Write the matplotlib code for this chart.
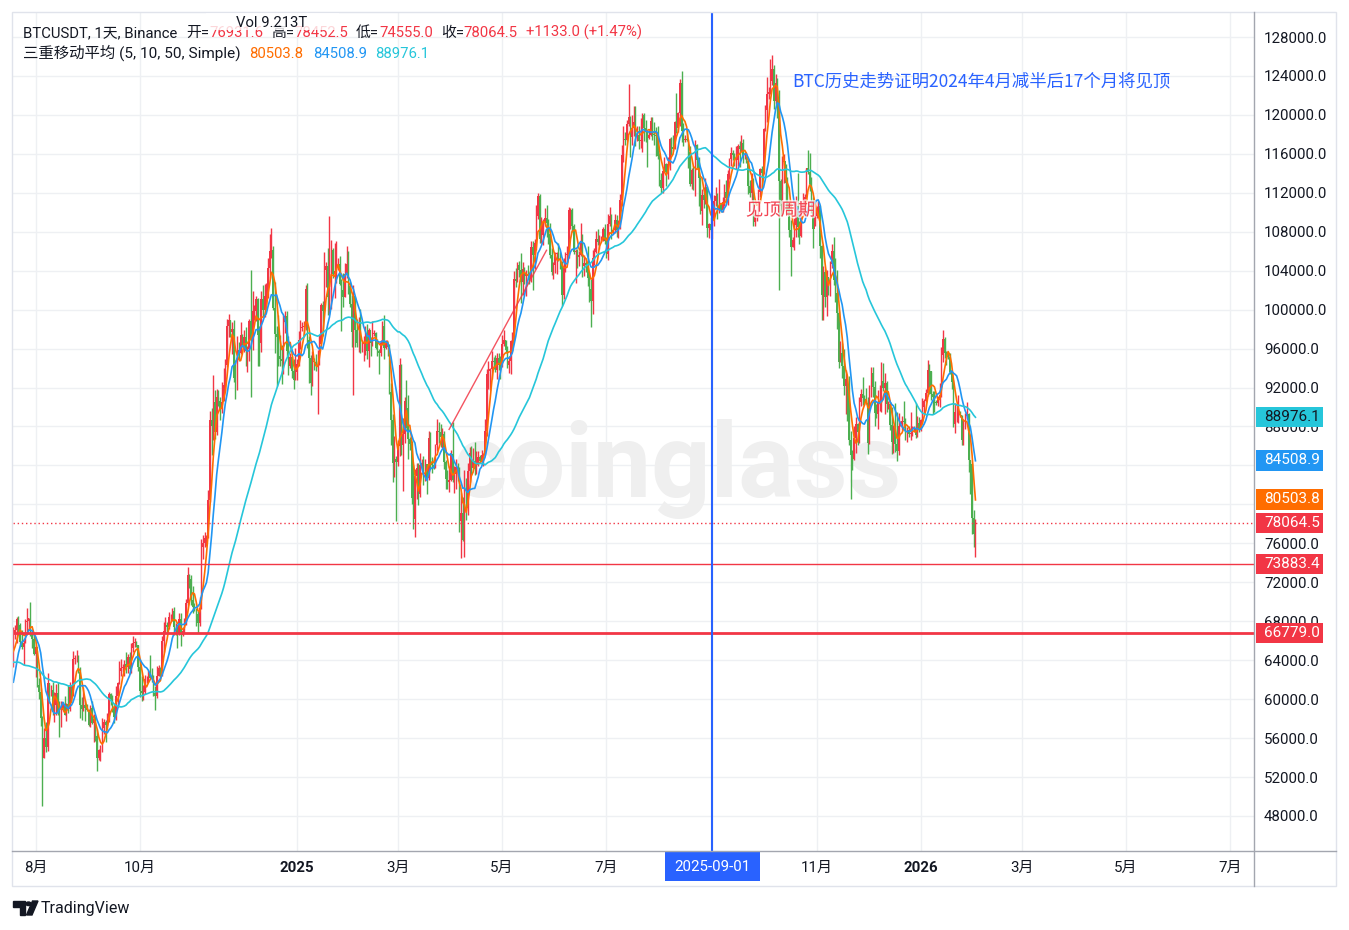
import matplotlib.pyplot as plt
import matplotlib.transforms as mtransforms
import matplotlib.patheffects as pe
from matplotlib.patches import Rectangle, Polygon, Circle
from matplotlib.lines import Line2D
import numpy as np
import pandas as pd

plt.rcParams['font.family'] = ['Roboto', 'Noto Sans CJK SC', 'DejaVu Sans']

# 日线 BTCUSDT (千美元), 从 2024-07-19 开始, 开盘 = 前一日收盘
first_day = '2024-07-19'

close_k = [
    66.7, 67.1, 68.2, 67.6, 65.9, 65.4, 65.8, 67.9, 68.0, 68.3, 66.8, 66.2, 64.6,  # 2024-07
    65.4, 61.5, 60.7, 58.1, 54.0, 56.0, 55.1, 61.7, 60.9, 60.9, 58.7, 59.4, 60.6, 58.7, 57.5, 58.9, 59.5, 58.4, 59.5, 59.0, 61.2, 60.4, 64.1, 64.2, 64.2, 62.8, 59.4, 59.0, 59.4, 59.1, 58.9,  # 08
    57.3, 59.1, 57.5, 58.0, 56.2, 54.0, 54.8, 54.9, 57.0, 57.6, 57.3, 58.1, 60.5, 60.0, 59.2, 58.2, 60.3, 61.7, 62.9, 63.2, 63.3, 63.6, 63.3, 64.3, 63.1, 65.2, 65.8, 65.9, 65.6, 63.3,  # 09
    60.8, 60.6, 60.7, 62.1, 62.1, 62.8, 62.2, 62.1, 60.6, 60.3, 62.4, 63.2, 62.9, 66.0, 67.0, 67.6, 67.4, 68.4, 68.4, 69.0, 67.4, 67.4, 66.7, 68.2, 66.6, 67.0, 67.9, 69.9, 72.7, 72.3, 70.2,  # 10
    69.5, 69.3, 68.7, 67.8, 69.4, 75.6, 76.0, 76.5, 76.7, 80.4, 88.7, 88.0, 90.5, 87.4, 91.0, 90.6, 89.8, 90.5, 92.3, 94.3, 98.3, 98.9, 97.7, 98.0, 93.0, 91.9, 95.9, 95.6, 97.4, 96.4,  # 11
    97.2, 95.8, 96.0, 98.8, 97.0, 99.9, 99.9, 101.1, 97.4, 96.6, 101.1, 100.0, 101.4, 101.4, 104.3, 106.0, 106.1, 100.2, 97.5, 97.2, 95.2, 94.9, 94.7, 98.7, 99.4, 95.8, 94.2, 95.1, 93.7, 92.8, 93.6,  # 12
    94.4, 96.9, 98.1, 98.2, 98.3, 102.1, 96.9, 95.0, 92.5, 94.7, 94.6, 94.5, 94.5, 96.5, 100.5, 99.9, 104.1, 104.5, 101.3, 102.0, 106.1, 103.7, 104.0, 104.7, 104.7, 102.6, 102.0, 101.3, 103.7, 104.7, 102.4,  # 2025-01
    100.6, 97.7, 101.4, 97.9, 96.6, 96.6, 96.5, 96.5, 96.5, 97.4, 95.8, 97.9, 96.6, 97.5, 97.6, 96.1, 95.8, 95.5, 96.6, 98.3, 96.1, 96.6, 96.2, 91.5, 88.7, 84.3, 84.7, 84.4,  # 02
    86.0, 94.3, 86.1, 87.2, 90.6, 89.9, 86.7, 86.2, 80.7, 78.5, 82.9, 83.7, 81.1, 84.0, 84.3, 82.6, 84.1, 82.7, 86.8, 84.2, 84.0, 83.8, 86.1, 87.5, 87.4, 86.9, 87.2, 84.4, 82.6, 82.3, 82.5,  # 03
    85.2, 82.5, 83.1, 83.8, 83.5, 78.3, 79.1, 76.3, 82.6, 79.6, 83.4, 85.3, 83.7, 84.5, 83.6, 84.0, 84.9, 84.5, 85.1, 85.2, 87.5, 93.4, 93.7, 93.9, 94.7, 94.6, 93.8, 95.0, 94.3, 94.2,  # 04
    96.5, 96.9, 95.9, 94.3, 94.7, 96.8, 97.0, 103.2, 102.9, 104.6, 104.1, 102.8, 104.2, 103.5, 103.7, 103.5, 103.2, 106.4, 105.6, 106.8, 109.6, 111.7, 107.3, 107.7, 109.0, 109.4, 108.9, 107.8, 105.6, 103.9, 104.6,  # 05
    105.7, 105.8, 105.4, 104.7, 101.5, 104.3, 105.6, 105.7, 110.2, 110.2, 108.6, 105.9, 106.0, 105.4, 105.6, 106.8, 104.5, 104.8, 104.6, 103.3, 102.1, 100.9, 105.3, 105.9, 107.3, 106.9, 107.1, 107.3, 108.3, 107.1,  # 06
    105.7, 108.8, 109.6, 108.0, 108.2, 109.2, 108.2, 108.9, 111.3, 115.9, 117.5, 117.4, 119.1, 119.8, 117.7, 118.7, 119.3, 117.9, 117.9, 117.3, 117.4, 120.0, 118.7, 118.3, 117.6, 117.9, 119.4, 118.0, 117.9, 117.8, 115.8,  # 07
    113.3, 112.5, 114.2, 115.0, 114.1, 115.0, 117.5, 116.7, 116.5, 119.3, 118.7, 120.2, 123.3, 118.3, 117.4, 117.5, 117.4, 116.2, 112.9, 114.3, 112.5, 116.9, 115.4, 113.5, 110.1, 111.8, 111.3, 112.6, 108.4, 108.8, 108.2,  # 08
    109.2, 111.2, 111.7, 110.7, 110.7, 110.2, 111.1, 112.1, 111.5, 113.9, 115.5, 116.1, 115.9, 115.3, 115.4, 116.8, 116.5, 117.1, 115.7, 115.7, 115.3, 112.7, 112.0, 113.3, 109.0, 109.7, 109.7, 112.1, 114.4, 114.0,  # 09
    118.6, 120.5, 122.2, 122.4, 123.5, 124.7, 121.4, 123.3, 121.7, 113.2, 110.6, 115.2, 115.3, 113.0, 110.8, 108.2, 106.4, 107.2, 108.7, 110.6, 108.5, 107.6, 110.1, 111.0, 111.6, 114.5, 114.1, 112.9, 110.0, 108.3, 109.6,  # 10
    110.1, 110.6, 106.5, 101.5, 103.9, 101.3, 103.4, 102.3, 104.7, 106.0, 103.0, 101.7, 99.7, 94.6, 95.5, 94.2, 92.2, 92.9, 91.5, 86.6, 85.1, 84.7, 86.8, 88.3, 87.4, 90.5, 91.3, 90.9, 90.8, 90.4,  # 11
    86.3, 91.3, 93.5, 92.1, 89.4, 89.3, 90.4, 90.6, 92.7, 92.0, 92.5, 90.3, 90.3, 88.2, 86.4, 87.8, 86.2, 85.5, 88.1, 88.3, 88.6, 88.5, 87.6, 87.6, 87.2, 87.3, 87.8, 87.8, 87.1, 88.4, 87.6,  # 12
    88.7, 90.0, 90.6, 91.4, 93.8, 93.7, 91.3, 91.0, 90.5, 90.4, 90.8, 91.2, 95.3, 97.0, 95.6, 95.5, 95.1, 93.6, 92.6, 88.3, 89.5, 89.5, 89.5, 89.2, 86.6, 88.3, 89.1, 89.3, 84.6, 84.1, 78.6,  # 2026-01
    76.9316, 78.0645,  # 02
]

high_k = [
    67.4, 67.6, 68.4, 68.5, 67.8, 67.1, 66.1, 68.2, 69.4, 68.3, 70.0, 67.0, 66.8,
    65.6, 65.0, 62.2, 61.1, 58.3, 57.0, 57.7, 62.7, 61.7, 61.5, 61.8, 60.7, 61.6, 61.8, 59.8, 59.8, 59.7, 60.3, 59.6, 61.4, 61.8, 61.4, 64.9, 64.5, 65.0, 64.5, 63.3, 60.2, 61.2, 59.9, 59.5,
    59.0, 59.4, 59.8, 58.5, 58.3, 56.9, 54.9, 55.3, 58.1, 58.0, 57.9, 58.6, 60.7, 60.6, 60.4, 59.2, 61.3, 61.8, 63.9, 64.1, 63.6, 64.0, 64.8, 64.6, 64.8, 65.8, 66.5, 66.3, 66.0, 65.6,
    64.1, 62.4, 61.5, 62.5, 62.4, 63.0, 64.5, 63.2, 62.5, 61.3, 63.4, 63.5, 63.3, 66.5, 67.9, 68.4, 67.9, 68.9, 68.7, 69.4, 69.5, 67.8, 67.5, 68.8, 68.8, 67.4, 68.3, 70.3, 73.6, 72.9, 72.7,
    71.6, 69.9, 69.4, 69.0, 70.5, 76.4, 76.9, 77.2, 76.9, 81.5, 89.6, 89.9, 93.3, 91.8, 91.9, 91.8, 91.0, 92.6, 94.0, 94.9, 99.0, 99.6, 98.9, 98.7, 98.9, 94.8, 97.3, 96.7, 98.7, 97.5,
    97.9, 98.2, 96.3, 99.0, 104.1, 101.9, 100.5, 101.4, 101.2, 98.3, 101.9, 102.5, 102.6, 102.7, 105.3, 107.8, 108.4, 106.5, 102.8, 98.3, 99.5, 97.4, 96.4, 99.5, 99.9, 99.9, 97.3, 95.5, 95.2, 94.9, 96.1,
    94.9, 97.8, 98.9, 98.7, 98.8, 102.5, 102.7, 97.3, 95.3, 95.8, 95.0, 95.4, 95.9, 97.4, 100.7, 100.9, 105.9, 104.9, 106.3, 109.6, 107.2, 106.3, 106.8, 107.1, 105.3, 105.5, 103.2, 103.8, 104.8, 106.5, 106.0,
    102.8, 101.5, 102.5, 101.3, 99.0, 99.2, 100.1, 96.9, 97.3, 98.3, 98.5, 98.1, 97.2, 98.8, 97.9, 97.7, 97.0, 96.0, 96.9, 98.8, 99.5, 96.9, 96.5, 96.5, 92.5, 89.3, 87.0, 85.0,
    86.6, 95.0, 94.4, 88.9, 91.0, 92.8, 91.2, 86.9, 86.5, 84.0, 83.6, 84.3, 84.3, 85.3, 84.7, 85.0, 84.7, 84.0, 87.5, 87.4, 84.9, 84.5, 86.2, 88.8, 88.5, 88.3, 87.8, 87.5, 84.6, 83.5, 83.9,
    85.6, 88.5, 83.9, 84.7, 84.3, 83.8, 81.2, 80.8, 83.5, 82.7, 84.2, 85.9, 86.0, 85.8, 86.4, 85.5, 85.5, 85.1, 85.6, 85.3, 88.8, 93.9, 94.7, 94.0, 95.8, 95.1, 95.3, 95.6, 95.5, 95.2,
    97.4, 97.9, 96.9, 96.3, 95.2, 96.9, 97.7, 104.0, 104.3, 104.9, 105.0, 105.8, 104.9, 104.4, 104.1, 104.6, 103.7, 107.1, 107.1, 107.3, 110.8, 112.0, 111.9, 109.5, 109.3, 110.4, 110.7, 109.3, 108.9, 106.3, 104.9,
    105.9, 105.9, 106.8, 105.9, 105.0, 105.3, 105.9, 106.5, 110.5, 110.4, 110.4, 108.8, 106.2, 106.2, 106.0, 108.9, 107.8, 105.6, 105.3, 106.5, 103.9, 103.1, 106.1, 106.3, 108.1, 108.3, 107.7, 107.6, 108.5, 108.8,
    107.5, 109.8, 110.5, 109.8, 108.4, 109.8, 109.7, 109.2, 111.9, 116.9, 118.9, 118.2, 119.5, 123.2, 119.9, 120.0, 120.9, 120.9, 118.9, 118.9, 119.7, 120.2, 120.2, 119.5, 118.4, 118.5, 119.8, 119.8, 119.3, 118.8, 118.9,
    116.1, 114.0, 114.7, 115.7, 115.1, 115.7, 117.6, 117.7, 117.9, 119.4, 122.3, 120.3, 123.7, 124.5, 119.2, 117.9, 118.6, 117.5, 116.8, 114.6, 114.8, 117.4, 117.0, 115.7, 113.6, 112.4, 112.6, 113.5, 112.7, 108.9, 109.5,
    109.9, 111.8, 112.6, 112.0, 113.4, 111.0, 111.6, 112.9, 113.3, 114.3, 115.6, 116.7, 116.4, 116.1, 116.8, 117.0, 117.3, 117.9, 117.5, 116.2, 115.8, 115.4, 113.3, 114.0, 113.5, 110.3, 109.8, 112.4, 114.5, 114.8,
    118.7, 121.0, 123.9, 122.9, 125.7, 126.2, 125.1, 124.2, 123.8, 122.6, 113.4, 115.8, 116.0, 115.0, 113.6, 111.1, 109.2, 107.5, 109.4, 111.7, 114.0, 109.1, 111.2, 112.0, 111.9, 114.6, 116.4, 116.1, 113.6, 111.6, 111.2,
    110.6, 111.2, 110.8, 106.6, 104.5, 104.2, 104.1, 103.4, 105.0, 106.7, 107.5, 105.3, 104.1, 99.9, 96.8, 96.6, 96.0, 93.8, 93.2, 93.2, 87.5, 85.6, 88.1, 89.0, 88.4, 91.0, 91.9, 93.1, 91.2, 92.0,
    91.0, 92.3, 94.1, 94.1, 92.7, 90.3, 91.8, 92.3, 94.6, 94.5, 93.5, 92.7, 90.6, 90.5, 90.0, 88.2, 90.4, 89.5, 89.4, 88.6, 89.1, 90.6, 88.9, 87.9, 88.0, 89.5, 88.0, 88.1, 90.4, 89.1, 89.0,
    88.8, 90.9, 90.8, 91.9, 94.8, 94.4, 93.7, 91.6, 91.6, 90.7, 91.1, 92.5, 96.2, 97.9, 97.2, 95.8, 95.6, 95.5, 93.4, 92.8, 90.4, 90.3, 91.2, 89.6, 89.2, 88.8, 89.4, 90.5, 89.4, 84.6, 84.2,
    79.4, 78.4525,
]

low_k = [
    63.3, 66.2, 65.8, 66.6, 65.5, 65.1, 63.5, 65.8, 66.7, 67.1, 66.5, 65.3, 64.5,
    62.3, 61.2, 60.0, 57.2, 49.0, 54.0, 54.6, 54.7, 59.6, 60.3, 58.4, 57.6, 58.4, 58.4, 56.1, 57.1, 58.8, 58.4, 57.8, 58.6, 58.8, 59.7, 60.3, 63.6, 63.8, 62.7, 58.1, 57.9, 58.8, 57.8, 58.8,
    57.2, 57.1, 57.4, 55.6, 55.7, 52.6, 53.7, 53.6, 54.6, 56.4, 55.6, 57.3, 57.6, 59.4, 58.7, 57.5, 57.9, 59.2, 61.6, 62.4, 62.8, 62.4, 62.7, 62.7, 62.6, 62.7, 64.8, 65.4, 65.4, 62.9,
    60.2, 59.8, 59.9, 60.5, 61.7, 61.8, 62.1, 61.8, 60.3, 58.9, 60.1, 62.4, 62.0, 62.4, 64.8, 66.8, 66.7, 67.2, 68.0, 68.0, 66.6, 66.6, 65.3, 66.6, 65.5, 66.5, 66.8, 67.6, 69.7, 71.4, 69.7,
    68.8, 69.0, 67.5, 66.8, 67.5, 69.3, 74.4, 75.6, 75.7, 76.5, 80.2, 85.1, 86.6, 86.7, 87.1, 90.1, 88.7, 89.4, 90.6, 91.6, 94.1, 97.2, 97.2, 95.4, 92.6, 90.8, 91.8, 94.7, 95.4, 96.2,
    95.7, 94.2, 93.6, 94.7, 91.0, 95.9, 98.9, 98.8, 94.2, 94.2, 95.7, 99.3, 99.2, 100.6, 101.2, 103.3, 105.3, 100.0, 95.6, 92.2, 94.2, 94.2, 92.4, 93.4, 97.6, 95.2, 93.3, 94.0, 93.0, 91.9, 92.8,
    92.8, 94.2, 96.0, 97.8, 97.3, 97.9, 96.1, 92.5, 91.2, 92.2, 93.8, 93.7, 89.3, 94.3, 96.5, 97.3, 99.9, 102.3, 99.5, 99.6, 100.1, 103.3, 101.2, 102.7, 104.1, 102.5, 97.8, 100.3, 101.3, 103.3, 101.6,
    100.3, 96.2, 91.2, 96.2, 96.2, 95.7, 95.6, 95.7, 94.7, 95.3, 94.9, 94.1, 95.2, 96.3, 97.3, 96.0, 95.2, 93.4, 95.2, 96.4, 94.9, 96.0, 95.2, 91.3, 86.1, 82.3, 82.8, 78.3,
    83.9, 85.0, 85.1, 81.4, 86.3, 87.8, 84.7, 85.6, 80.0, 77.5, 76.6, 80.6, 79.9, 80.8, 83.6, 82.0, 82.4, 81.1, 82.5, 83.6, 83.2, 83.6, 83.7, 85.5, 86.3, 85.9, 85.8, 83.6, 81.6, 81.6, 81.3,
    82.4, 82.3, 81.2, 81.6, 82.4, 77.2, 74.5, 76.2, 74.6, 78.4, 78.9, 82.3, 83.0, 83.7, 83.0, 83.1, 83.9, 84.3, 84.2, 83.9, 85.1, 87.0, 91.9, 91.7, 92.9, 93.9, 93.6, 92.9, 93.8, 92.9,
    94.1, 96.3, 95.7, 94.0, 93.5, 93.4, 95.8, 96.9, 102.3, 102.8, 103.4, 100.7, 101.5, 102.6, 101.4, 103.1, 102.6, 102.8, 102.0, 104.2, 106.1, 109.3, 106.8, 106.8, 106.6, 108.6, 107.5, 106.7, 105.3, 103.6, 103.1,
    103.8, 103.7, 105.0, 104.2, 100.4, 101.1, 103.9, 104.9, 105.3, 108.3, 108.0, 105.7, 102.7, 104.3, 104.5, 105.5, 103.4, 103.5, 103.9, 102.4, 100.8, 98.2, 99.6, 104.6, 105.8, 106.6, 106.2, 106.9, 107.1, 106.7,
    105.3, 105.1, 108.6, 107.3, 107.8, 107.9, 107.5, 107.4, 108.3, 110.6, 115.2, 116.9, 117.3, 118.9, 115.7, 116.9, 117.8, 116.8, 117.3, 116.5, 116.6, 116.2, 117.3, 117.2, 114.7, 117.5, 117.8, 117.4, 116.9, 115.8, 115.5,
    112.7, 112.0, 112.0, 114.1, 112.7, 113.4, 114.3, 115.9, 116.3, 116.5, 118.1, 118.2, 118.9, 117.2, 116.8, 117.2, 117.3, 114.6, 112.7, 112.4, 112.3, 111.7, 114.6, 110.6, 109.8, 108.7, 110.4, 110.9, 107.5, 107.4, 108.1,
    107.3, 108.6, 110.6, 109.3, 109.9, 110.0, 110.0, 110.6, 110.9, 110.8, 113.4, 114.8, 115.4, 114.8, 114.4, 114.8, 114.7, 116.3, 115.1, 115.5, 115.1, 111.9, 111.6, 111.1, 108.6, 108.6, 109.1, 109.5, 111.6, 112.6,
    113.9, 118.4, 119.3, 121.6, 122.2, 123.1, 120.6, 121.1, 119.7, 102.0, 109.6, 109.7, 113.0, 109.9, 110.2, 107.5, 103.5, 106.4, 106.1, 107.5, 107.5, 106.7, 107.5, 109.8, 110.9, 111.2, 113.9, 112.2, 109.9, 106.3, 108.6,
    109.4, 109.7, 105.3, 98.9, 98.9, 100.3, 99.3, 101.5, 101.4, 104.3, 102.5, 100.8, 98.0, 94.0, 94.6, 93.0, 91.2, 89.3, 88.6, 86.1, 80.6, 83.5, 84.6, 85.3, 86.1, 86.3, 90.1, 90.2, 90.2, 90.3,
    85.2, 86.2, 91.0, 91.0, 88.1, 88.9, 87.7, 89.6, 89.5, 91.6, 89.3, 89.5, 89.8, 87.6, 85.2, 85.3, 85.4, 84.5, 85.1, 88.0, 87.6, 87.9, 86.6, 86.4, 86.9, 86.6, 87.0, 87.4, 86.8, 86.9, 87.4,
    87.5, 88.3, 89.3, 90.5, 91.1, 91.3, 90.7, 89.3, 89.5, 90.2, 90.1, 90.0, 91.0, 94.6, 95.0, 94.3, 94.9, 93.4, 91.9, 87.9, 87.3, 88.5, 88.4, 89.0, 86.1, 86.1, 87.7, 88.8, 83.3, 81.1, 77.0,
    75.6, 74.555,
]

# 2024-05-30 ~ 2024-07-18 收盘价, 只用于计算均线
warmup_close_k = [
    68.4, 67.5, 67.7, 67.8, 68.8, 70.6, 71.1, 70.8, 69.3, 69.3, 69.6, 69.5, 67.3, 68.2, 66.8, 66.0, 66.2,
    66.6, 66.5, 65.2, 64.9, 64.8, 64.1, 64.2, 63.2, 60.3, 61.8, 60.9, 61.6, 60.3, 60.9, 62.7, 62.9, 62.1,
    60.2, 57.0, 56.7, 58.2, 55.9, 56.7, 58.0, 57.7, 57.3, 57.9, 59.2, 60.8, 64.7, 65.1, 64.1, 63.9,
]

ma_periods = [5, 10, 50]
ma_colors = ['#ff6d00', '#2196f3', '#26c6da']
ma_last = ['80503.8', '84508.9', '88976.1']

# 图上的画线
level_prices = [73883.4, 66779.0]
last_price = 78064.5
marker_day = '2025-09-01'
trend_days = ['2025-03-31', '2025-05-27']
trend_prices = [87700, 106100]

x_tick_days = ['2024-08-01', '2024-10-01', '2025-01-01', '2025-03-01', '2025-05-01', '2025-07-01',
               '2025-09-01', '2025-11-01', '2026-01-01', '2026-03-01', '2026-05-01', '2026-07-01']
x_tick_labels = ['8月', '10月', '2025', '3月', '5月', '7月', '', '11月', '2026', '3月', '5月', '7月']

RED = '#f23645'
GREEN = '#4caf50'
BLUE = '#2962ff'
TXT = '#131722'

assert len(close_k) == len(high_k) == len(low_k)

dates = pd.date_range(first_day, periods=len(close_k), freq='D')
close = np.array(close_k) * 1000
high = np.array(high_k) * 1000
low = np.array(low_k) * 1000
warm = np.array(warmup_close_k) * 1000
opens = np.concatenate([[warm[-1]], close[:-1]])
colors = np.where(close >= opens, RED, GREEN)  # 红涨绿跌

W, H = 1349, 930
fig = plt.figure(figsize=(W / 100, H / 100), dpi=100)
ax = fig.add_axes([13 / W, 1 - 851 / H, (1254 - 13) / W, (851 - 13) / H])
renderer = fig.canvas.get_renderer()


def fx(x):
    return x / W


def fy(y):
    return 1 - y / H


# K线
ax.vlines(dates, low, high, colors=colors, linewidth=1.0, zorder=3)
ax.bar(dates, np.abs(close - opens), bottom=np.minimum(opens, close), width=0.8,
       color=colors, linewidth=0, zorder=3)

# 三重移动平均
full = pd.Series(np.concatenate([warm, close]))
for n, c in zip(ma_periods, ma_colors):
    ma = full.rolling(n).mean().iloc[len(warm):].to_numpy()
    ax.plot(dates, ma, color=c, lw=1.2, zorder=4)

# 水平线、竖线、趋势线
ax.axhline(level_prices[0], color=RED, lw=1, zorder=5)
ax.axhline(level_prices[1], color=RED, lw=2, zorder=5)
ax.axhline(last_price, color=RED, lw=1, ls=(0, (1, 2)), zorder=5)
ax.axvline(pd.Timestamp(marker_day), color=BLUE, lw=1.5, zorder=5)
ax.plot(pd.to_datetime(trend_days), trend_prices, color=RED, lw=1, alpha=0.85, zorder=5)

# 坐标范围
day0 = pd.Timestamp('2025-01-01')
ax.set_xlim(day0 - pd.Timedelta(days=166.2), day0 + pd.Timedelta(days=560.0))
ax.set_ylim(44400, 130470)

# 网格和刻度 (被价格标签完全挡住的刻度不写)
yt = np.arange(48000, 128001, 4000)
ax.set_yticks(yt)
ax.set_yticklabels(['' if v in (80000, 84000) else f'{v:.1f}' for v in yt])
ax.set_xticks(pd.to_datetime(x_tick_days))
ax.set_xticklabels(x_tick_labels)
ax.grid(True, color='#eef0f3', lw=1, zorder=0)
ax.set_axisbelow(True)
for s in ax.spines.values():
    s.set_visible(False)
ax.tick_params(axis='y', left=False, right=True, labelleft=False, labelright=True,
               length=0, pad=7.2, labelsize=10.8, labelcolor=TXT)
ax.tick_params(axis='x', length=0, pad=7.0, labelsize=10.8, labelcolor=TXT)
for lab in ax.get_xticklabels():
    if lab.get_text() in ('2025', '2026'):
        lab.set_fontweight('bold')

# 水印
ax.text(0.5355, 0.4224, 'coinglass', transform=ax.transAxes, fontsize=75, fontweight='bold',
        color='#efefef', ha='center', va='baseline', zorder=1, family=['Roboto'])

# 注释文字
ax.text(pd.Timestamp('2025-10-11'), 110200, '见顶周期', color=RED, fontsize=12.5, ha='center',
        va='center', alpha=0.9, family=['Noto Sans CJK SC'], zorder=6,
        path_effects=[pe.withStroke(linewidth=2.5, foreground='white', alpha=0.7)])
ax.text(pd.Timestamp('2025-10-18'), 123500, 'BTC历史走势证明2024年4月减半后17个月将见顶',
        color=BLUE, fontsize=12.5, ha='left', va='center', family=['Noto Sans CJK SC'], zorder=6)

# 右侧价格标签
tag_tr = mtransforms.blended_transform_factory(ax.transAxes, ax.transData)
tags = [(float(ma_last[2]), ma_colors[2], TXT), (float(ma_last[1]), ma_colors[1], 'white'),
        (float(ma_last[0]), ma_colors[0], 'white'), (last_price, RED, 'white'),
        (level_prices[0], RED, 'white'), (level_prices[1], RED, 'white')]
for v, bg, fg in tags:
    ax.add_patch(Rectangle((1 + 2 / 1241, v - 1030), 67 / 1241, 2060, transform=tag_tr,
                           facecolor=bg, edgecolor='none', clip_on=False, zorder=10))
    ax.text(1 + 10 / 1241, v, f'{v:.1f}', transform=tag_tr, ha='left', va='center',
            fontsize=11, color=fg, clip_on=False, zorder=11)

# 底部日期标签
date_tr = mtransforms.blended_transform_factory(ax.transData, ax.transAxes)
md = pd.Timestamp(marker_day)
ax.add_patch(Rectangle((md - pd.Timedelta(days=27.8), -30 / 838), pd.Timedelta(days=55.6), 29 / 838,
                       transform=date_tr, facecolor=BLUE, edgecolor='none', clip_on=False, zorder=10))
ax.text(md, -15.5 / 838, marker_day, transform=date_tr, ha='center', va='center', fontsize=10.8,
        color='white', clip_on=False, zorder=11)

# 边框
fig.add_artist(Rectangle((fx(12), fy(886)), (1336 - 12) / W, (886 - 12) / H, fill=False,
                         edgecolor='#e0e3eb', lw=1, transform=fig.transFigure))
fig.add_artist(Line2D([fx(1254), fx(1254)], [fy(12), fy(886)], color='#a3a6af', lw=1,
                      transform=fig.transFigure))
fig.add_artist(Line2D([fx(12), fx(1336)], [fy(851), fy(851)], color='#a3a6af', lw=1,
                      transform=fig.transFigure))


# 图例文字: 逐段排在同一基线上
def chain(parts, x, y):
    for s, c, gap, size in parts:
        x += gap
        t = fig.text(fx(x), fy(y), s, color=c, fontsize=size, ha='left', va='baseline', zorder=3)
        x = t.get_window_extent(renderer).x1


chain([('BTCUSDT, 1天, Binance', TXT, 0, 10.7), ('开=', TXT, 9, 10.7), ('76931.6', RED, 0, 10.7),
       ('高=', TXT, 8, 10.7), ('78452.5', RED, 0, 10.7), ('低=', TXT, 8, 10.7), ('74555.0', RED, 0, 10.7),
       ('收=', TXT, 8, 10.7), ('78064.5', RED, 0, 10.7), ('+1133.0 (+1.47%)', RED, 8, 10.7)], 23, 37)
chain([('三重移动平均 (5, 10, 50, Simple)', TXT, 0, 11.1), (ma_last[0], ma_colors[0], 9, 10.7),
       (ma_last[1], ma_colors[1], 9, 10.7), (ma_last[2], ma_colors[2], 9, 10.7)], 23, 58)

# Vol 提示框
fig.add_artist(Rectangle((fx(206), fy(30)), 133 / W, 17 / H, facecolor='white', alpha=0.8,
                         edgecolor='none', transform=fig.transFigure, zorder=5))
fig.text(fx(272), fy(23), 'Vol 9.213T', ha='center', va='center', fontsize=10.7, color=TXT, zorder=6)

# TradingView 标志
fig.add_artist(Polygon([(fx(13), fy(901)), (fx(25), fy(901)), (fx(25), fy(915)), (fx(19.5), fy(915)),
                        (fx(19.5), fy(906.5)), (fx(13), fy(906.5))], closed=True, color=TXT,
                       transform=fig.transFigure))
fig.add_artist(Circle((fx(28.5), fy(903.8)), 2.6 / W, color=TXT, transform=fig.transFigure))
fig.add_artist(Polygon([(fx(32.5), fy(901)), (fx(38), fy(901)), (fx(32), fy(915)), (fx(26.5), fy(915))],
                       closed=True, color=TXT, transform=fig.transFigure))
fig.text(fx(41), fy(908), 'TradingView', ha='left', va='center', fontsize=11.5, color=TXT)

fig.savefig('out.png', dpi=100, facecolor='white')
plt.close(fig)
